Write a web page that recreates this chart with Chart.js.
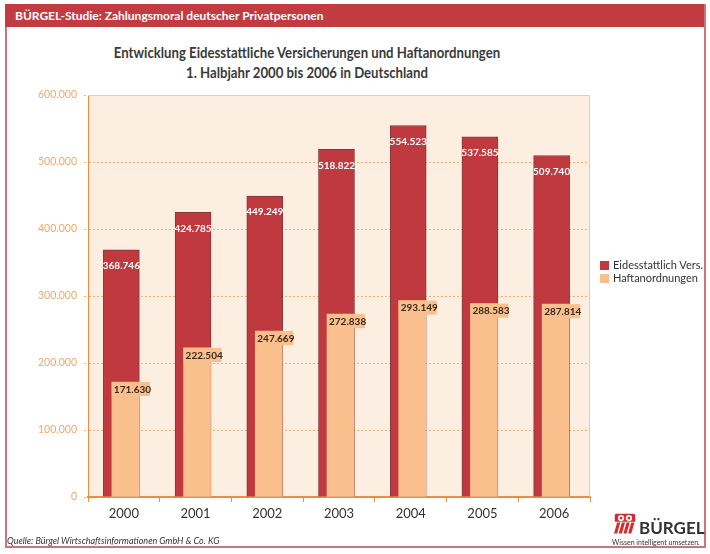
<!DOCTYPE html>
<html>
<head>
<meta charset="utf-8">
<script src="https://cdn.jsdelivr.net/npm/chart.js@4/dist/chart.umd.min.js"></script>
<style>
  body { margin: 0; width: 710px; height: 554px; position: relative; overflow: hidden; background: #fff; font-family: Lato, 'Open Sans', sans-serif; }
  #frame { position: absolute; left: 5px; top: 4px; width: 697px; height: 542px; border: 2px solid #c9747b; border-top: none; }
  #header { position: absolute; left: 5px; top: 4px; width: 699px; height: 23px; background: #c23b41; color: #fff; font-weight: bold; font-size: 12px; line-height: 23px; padding-left: 10px; box-sizing: border-box; }
  #title { position: absolute; left: 0; width: 614px; top: 42px; text-align: center; font-weight: bold; font-size: 15.5px; line-height: 20px; color: #3a3a3a; transform: scaleX(0.85); transform-origin: 307px 0; }
  #chart { position: absolute; left: 0; top: 0; }
  #legend { position: absolute; left: 600px; top: 258px; font-size: 11px; color: #333; line-height: 13px; }
  #legend span { display: inline-block; width: 9px; height: 9px; margin-right: 4px; vertical-align: -1px; }
  #source { position: absolute; left: 7px; top: 535px; font-size: 9px; font-style: italic; color: #333; }
  #logo { position: absolute; left: 606px; top: 507px; width: 100px; height: 40px; }
  #logo .name { position: absolute; left: 33px; top: 10px; font-size: 17px; font-weight: bold; color: #333; }
  #logo .claim { position: absolute; left: 6px; top: 31px; font-size: 7px; color: #333; white-space: nowrap; }
</style>
</head>
<body>
<div id="frame"></div>
<div id="header">BÜRGEL-Studie: Zahlungsmoral deutscher Privatpersonen</div>
<div id="title">Entwicklung Eidesstattliche Versicherungen und Haftanordnungen<br>1. Halbjahr 2000 bis 2006 in Deutschland</div>
<canvas id="chart" width="710" height="554"></canvas>
<div id="legend">
  <div><span style="background:#c0393f"></span>Eidesstattlich Vers.</div>
  <div><span style="background:#f9bf8d"></span>Haftanordnungen</div>
</div>
<div id="source">Quelle: Bürgel Wirtschaftsinformationen GmbH &amp; Co. KG</div>
<div id="logo">
  <svg width="24" height="22" viewBox="0 0 30 28" style="position:absolute;left:7px;top:6px">
    <path d="M4 1 H26 Q28 1 28 3 V11 H2 V3 Q2 1 4 1 Z" fill="#d42b2b"/>
    <circle cx="10" cy="6.5" r="4" fill="#fff"/>
    <circle cx="20" cy="6.5" r="4" fill="#fff"/>
    <circle cx="10" cy="6.5" r="1.8" fill="#d42b2b"/>
    <circle cx="20" cy="6.5" r="1.8" fill="#d42b2b"/>
    <polygon points="5,12 9,12 5,26 1,26" fill="#d42b2b"/>
    <polygon points="11,12 15,12 11,26 7,26" fill="#d42b2b"/>
    <polygon points="17,12 21,12 17,26 13,26" fill="#d42b2b"/>
    <polygon points="23,12 27,12 23,26 19,26" fill="#d42b2b"/>
  </svg>
  <div class="name">BÜRGEL</div>
  <div class="claim">Wissen intelligent umsetzen.</div>
</div>
<script>
// Data
const years = ['2000', '2001', '2002', '2003', '2004', '2005', '2006'];
const eidesstattlich = [368746, 424785, 449249, 518822, 554523, 537585, 509740];
const haftanordnungen = [171630, 222504, 247669, 272838, 293149, 288583, 287814];
const yTicks = [0, 100000, 200000, 300000, 400000, 500000, 600000];

const RED = '#c0393f';
const ORANGE = '#f9bf8d';
const AXIS_ORANGE = '#f08c3c';
const GRID_ORANGE = '#f2ad70';

// Bars overlap: red slightly left of centre, orange right-aligned on it
const redShift = -0.035;
const orangeShift = 0.021;

const fmt = v => v.toString().replace(/\B(?=(\d{3})+(?!\d))/g, '.');

const plotBackground = {
  id: 'plotBackground',
  beforeDraw(chart) {
    const { ctx, chartArea: a } = chart;
    ctx.save();
    ctx.fillStyle = '#fdeee2';
    ctx.fillRect(a.left, a.top, a.right - a.left, a.bottom - a.top);
    ctx.restore();
  },
  afterDatasetsDraw(chart) {
    const { ctx, chartArea: a } = chart;
    ctx.save();
    ctx.strokeStyle = '#f6c89c';
    ctx.lineWidth = 1;
    ctx.beginPath();
    ctx.moveTo(a.left, a.top + 0.5);
    ctx.lineTo(a.right - 0.5, a.top + 0.5);
    ctx.lineTo(a.right - 0.5, a.bottom);
    ctx.stroke();
    ctx.restore();
  }
};

const barLabels = {
  id: 'barLabels',
  afterDatasetsDraw(chart) {
    const { ctx } = chart;
    ctx.save();
    ctx.textBaseline = 'middle';
    // red labels
    chart.getDatasetMeta(0).data.forEach((el, i) => {
      ctx.font = 'bold 10px Lato';
      ctx.fillStyle = '#fff';
      ctx.textAlign = 'center';
      ctx.fillText(fmt(eidesstattlich[i]), el.x, el.y + 16);
    });
    // orange labels with box
    chart.getDatasetMeta(1).data.forEach((el, i) => {
      const left = el.x - el.width / 2;
      ctx.fillStyle = ORANGE;
      ctx.fillRect(left, el.y, 38, 14);
      ctx.font = 'bold 10px Lato';
      ctx.fillStyle = '#3a2a1e';
      ctx.textAlign = 'left';
      ctx.fillText(fmt(haftanordnungen[i]), left + 2, el.y + 7.5);
    });
    ctx.restore();
  }
};

Chart.defaults.font.family = 'Lato';

new Chart(document.getElementById('chart'), {
  type: 'bar',
  data: {
    labels: years,
    datasets: [
      {
        label: 'Eidesstattlich Vers.',
        data: eidesstattlich.map((v, i) => ({ x: i + redShift, y: v })),
        xAxisID: 'x2',
        backgroundColor: RED,
        borderColor: '#803a3a',
        borderWidth: 1,
        barThickness: 36,
        grouped: false,
        order: 1
      },
      {
        label: 'Haftanordnungen',
        data: haftanordnungen.map((v, i) => ({ x: i + orangeShift, y: v })),
        xAxisID: 'x2',
        backgroundColor: ORANGE,
        borderWidth: 0,
        barThickness: 27,
        grouped: false,
        order: 0
      }
    ]
  },
  options: {
    responsive: false,
    animation: false,
    layout: { padding: { top: 95, left: 6, right: 120, bottom: 0 } },
    plugins: {
      legend: { display: false },
      tooltip: { enabled: false }
    },
    scales: {
      x: {
        type: 'category',
        offset: true,
        afterFit: s => { s.height = 57; },
        grid: { offset: true, drawOnChartArea: false, tickLength: 5, tickColor: AXIS_ORANGE },
        border: { color: AXIS_ORANGE, width: 2 },
        ticks: { color: '#333', font: { size: 13 }, padding: 4 }
      },
      x2: {
        type: 'linear',
        display: false,
        offset: false,
        min: -0.5,
        max: 6.5
      },
      y: {
        min: 0,
        max: 600000,
        afterFit: s => { s.width = 82; },
        afterBuildTicks: s => { s.ticks = yTicks.map(v => ({ value: v })); },
        grid: { color: GRID_ORANGE, tickLength: 4, tickColor: GRID_ORANGE, tickBorderDash: [2, 2] },
        border: { color: AXIS_ORANGE, width: 1, dash: [2, 2] },
        ticks: { color: '#f0a868', font: { size: 10.5 }, padding: 7, callback: v => fmt(v) }
      }
    }
  },
  plugins: [plotBackground, barLabels]
});
</script>
</body>
</html>
